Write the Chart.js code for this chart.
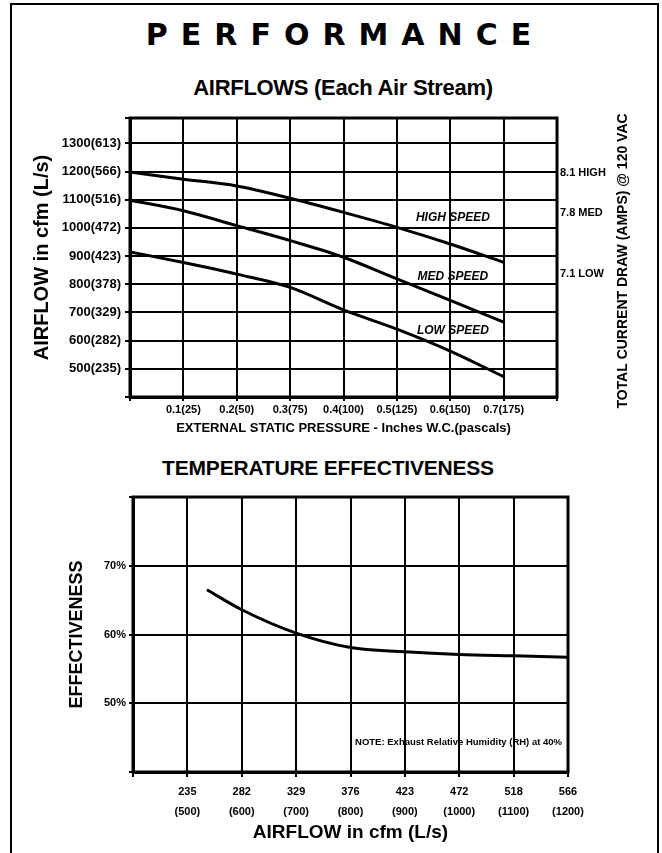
<!DOCTYPE html>
<html>
<head>
<meta charset="utf-8">
<script src="https://cdn.jsdelivr.net/npm/chart.js@4.4.1/dist/chart.umd.min.js"></script>
<style>
  body { margin: 0; background: #fff; width: 662px; height: 853px; position: relative; overflow: hidden; }
  .frame { position: absolute; left: 10px; top: 3px; width: 645px; height: 900px; border: 2px solid #000; }
  .t { position: absolute; left: 0; width: 662px; text-align: center; font-weight: bold; color: #000; white-space: nowrap; line-height: 1; }
  #main { top: 20px; left: 14px; font-family: "DejaVu Sans", sans-serif; font-size: 30px; letter-spacing: 13px; }
  #sub1 { top: 77px; left: 12px; font-family: "Liberation Sans", sans-serif; font-size: 22px; letter-spacing: -0.3px; }
  #sub2 { top: 457px; left: -3px; font-family: "Liberation Sans", sans-serif; font-size: 21px; letter-spacing: -0.2px; }
  canvas { position: absolute; left: 0; }
</style>
</head>
<body>
<div class="frame"></div>
<div class="t" id="main">PERFORMANCE</div>
<div class="t" id="sub1">AIRFLOWS (Each Air Stream)</div>
<div class="t" id="sub2">TEMPERATURE EFFECTIVENESS</div>
<canvas id="airflow" width="662" height="340" style="top:100px"></canvas>
<canvas id="effect" width="662" height="365" style="top:485px"></canvas>
<script>
// airflow curves (cfm)
const pressures = [0, 0.1, 0.2, 0.3, 0.4, 0.5, 0.6, 0.7];
const highSpeed = [1198, 1173, 1149, 1105, 1055, 1002, 943, 878];
const medSpeed = [1098, 1061, 1008, 955, 896, 819, 743, 666];
const lowSpeed = [915, 877, 836, 789, 709, 641, 563, 472];
const speedNames = ['HIGH SPEED', 'MED SPEED', 'LOW SPEED'];
const ampLabels = ['8.1 HIGH', '7.8 MED', '7.1 LOW'];

const airflowTicks = [500, 600, 700, 800, 900, 1000, 1100, 1200, 1300];
const airflowTickLabels = ['500(235)', '600(282)', '700(329)', '800(378)', '900(423)', '1000(472)', '1100(516)', '1200(566)', '1300(613)'];
const pressureTickLabels = ['0.1(25)', '0.2(50)', '0.3(75)', '0.4(100)', '0.5(125)', '0.6(150)', '0.7(175)'];

// temperature effectiveness
const effAirflow = [536, 600, 700, 800, 900, 1000, 1100, 1200];
const effValues = [66.5, 63.6, 60.2, 58.1, 57.5, 57.1, 56.9, 56.7];
const effTickCfm = [500, 600, 700, 800, 900, 1000, 1100, 1200];
const effTickLs = ['235', '282', '329', '376', '423', '472', '518', '566'];
const effPctTicks = [50, 60, 70];

const NARROW = '"Liberation Sans Narrow", "Liberation Sans", sans-serif';
const SANS = '"Liberation Sans", Arial, sans-serif';

const frameBox = {
  id: 'frameBox',
  afterDraw(chart) {
    const { ctx, chartArea: a } = chart;
    ctx.save();
    ctx.strokeStyle = '#000';
    ctx.lineWidth = 3;
    ctx.strokeRect(a.left, a.top, a.right - a.left, a.bottom - a.top);
    ctx.restore();
  }
};

const airflowNotes = {
  id: 'airflowNotes',
  afterDatasetsDraw(chart) {
    const { ctx, chartArea: a, scales: { x, y } } = chart;
    ctx.save();
    ctx.fillStyle = '#000';
    ctx.textBaseline = 'middle';
    // curve names
    ctx.font = 'italic bold 12px ' + NARROW;
    ctx.textAlign = 'center';
    const nameY = [1036, 828, 637];
    speedNames.forEach((n, i) => ctx.fillText(n, x.getPixelForValue(0.605), y.getPixelForValue(nameY[i])));
    // current draw at right
    ctx.font = 'bold 11px ' + NARROW;
    ctx.textAlign = 'left';
    const ampY = [1195, 1054, 838];
    ampLabels.forEach((n, i) => ctx.fillText(n, a.right + 3, y.getPixelForValue(ampY[i])));
    ctx.translate(623, 161);
    ctx.rotate(-Math.PI / 2);
    ctx.textAlign = 'center';
    ctx.font = 'bold 14px ' + SANS;
    ctx.fillText('TOTAL CURRENT DRAW (AMPS) @ 120 VAC', 0, 0);
    ctx.restore();
  }
};

const effectNote = {
  id: 'effectNote',
  afterDatasetsDraw(chart) {
    const { ctx, chartArea: a } = chart;
    ctx.save();
    ctx.fillStyle = '#000';
    ctx.textBaseline = 'middle';
    ctx.textAlign = 'right';
    ctx.font = 'bold 9.5px ' + NARROW;
    ctx.fillText('NOTE: Exhaust Relative Humidity (RH) at 40%', a.right - 6, a.bottom - 30);
    ctx.restore();
  }
};

const line = (vals) => ({
  data: pressures.map((p, i) => ({ x: p, y: vals[i] })),
  borderColor: '#000',
  borderWidth: 3,
  pointRadius: 0,
  cubicInterpolationMode: 'monotone',
  fill: false
});

new Chart(document.getElementById('airflow'), {
  type: 'line',
  data: { datasets: [line(highSpeed), line(medSpeed), line(lowSpeed)] },
  options: {
    responsive: false,
    animation: false,
    layout: { padding: { top: 18, right: 105, left: 0, bottom: 0 } },
    plugins: { legend: { display: false }, tooltip: { enabled: false } },
    scales: {
      x: {
        type: 'linear', min: 0, max: 0.8,
        afterBuildTicks: (s) => { s.ticks = [0, 1, 2, 3, 4, 5, 6, 7, 8].map(i => ({ value: i / 10 })); },
        afterFit: (s) => { s.height = 43; },
        grid: { color: '#000', lineWidth: 2, tickLength: 4 },
        border: { color: '#000', width: 3 },
        ticks: {
          color: '#000', padding: 2, maxRotation: 0, autoSkip: false,
          font: { family: NARROW, size: 11, weight: 'bold' },
          callback: (v) => { const i = Math.round(v * 10); return i >= 1 && i <= 7 ? pressureTickLabels[i - 1] : ''; }
        },
        title: {
          display: true, color: '#000', padding: { bottom: 4 },
          text: 'EXTERNAL STATIC PRESSURE - Inches W.C.(pascals)',
          font: { family: NARROW, size: 13, weight: 'bold' }
        }
      },
      y: {
        type: 'linear', min: 400, max: 1390,
        afterBuildTicks: (s) => { s.ticks = [400, ...airflowTicks, 1390].map(v => ({ value: v })); },
        afterFit: (s) => { s.width = 130; },
        grid: { color: '#000', lineWidth: 2, tickLength: 5 },
        border: { color: '#000', width: 3 },
        ticks: {
          color: '#000', padding: 4, autoSkip: false,
          font: { family: NARROW, size: 13, weight: 'bold' },
          callback: (v) => { const i = airflowTicks.indexOf(v); return i >= 0 ? airflowTickLabels[i] : ''; }
        },
        title: {
          display: true, color: '#000', padding: { top: 30 },
          text: 'AIRFLOW in cfm (L/s)',
          font: { family: SANS, size: 20, weight: 'bold' }
        }
      }
    }
  },
  plugins: [frameBox, airflowNotes]
});

new Chart(document.getElementById('effect'), {
  type: 'line',
  data: {
    datasets: [{
      data: effAirflow.map((c, i) => ({ x: c, y: effValues[i] })),
      borderColor: '#000', borderWidth: 3, pointRadius: 0, cubicInterpolationMode: 'monotone', fill: false
    }]
  },
  options: {
    responsive: false,
    animation: false,
    layout: { padding: { top: 12, right: 94, left: 0, bottom: 0 } },
    plugins: { legend: { display: false }, tooltip: { enabled: false } },
    scales: {
      x: {
        type: 'linear', min: 400, max: 1200,
        afterBuildTicks: (s) => { s.ticks = [400, ...effTickCfm].map(v => ({ value: v })); },
        afterFit: (s) => { s.height = 78; },
        grid: { color: '#000', lineWidth: 2, tickLength: 5 },
        border: { color: '#000', width: 3 },
        ticks: {
          color: '#000', padding: 5, maxRotation: 0, autoSkip: false,
          font: { family: NARROW, size: 11, weight: 'bold', lineHeight: 1.8 },
          callback: (v) => { const i = effTickCfm.indexOf(v); return i >= 0 ? [effTickLs[i], '(' + effTickCfm[i] + ')'] : ''; }
        },
        title: {
          display: true, color: '#000', padding: { bottom: 6 },
          text: 'AIRFLOW in cfm (L/s)',
          font: { family: SANS, size: 19, weight: 'bold' }
        }
      },
      y: {
        type: 'linear', min: 40, max: 80,
        afterBuildTicks: (s) => { s.ticks = [40, 50, 60, 70, 80].map(v => ({ value: v })); },
        afterFit: (s) => { s.width = 133; },
        grid: { color: '#000', lineWidth: 2, tickLength: 4 },
        border: { color: '#000', width: 3 },
        ticks: {
          color: '#000', padding: 3, autoSkip: false,
          font: { family: NARROW, size: 11, weight: 'bold' },
          callback: (v) => effPctTicks.includes(v) ? v + '%' : ''
        },
        title: {
          display: true, color: '#000', padding: { top: 66 },
          text: 'EFFECTIVENESS',
          font: { family: SANS, size: 18, weight: 'bold' }
        }
      }
    }
  },
  plugins: [frameBox, effectNote]
});
</script>
</body>
</html>
